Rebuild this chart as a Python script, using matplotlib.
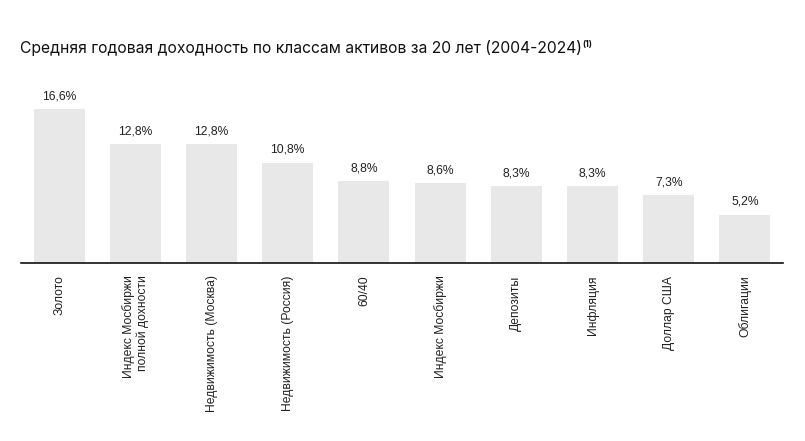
import matplotlib.pyplot as plt

plt.rcParams['font.family'] = ['Liberation Sans', 'DejaVu Sans']

categories = ['Золото', 'Индекс Мосбиржи\nполной дохности', 'Недвижимость (Москва)',
              'Недвижимость (Россия)', '60/40', 'Индекс Мосбиржи', 'Депозиты',
              'Инфляция', 'Доллар США', 'Облигации']
values = [16.6, 12.8, 12.8, 10.8, 8.8, 8.6, 8.3, 8.3, 7.3, 5.2]
value_labels = ['16,6%', '12,8%', '12,8%', '10,8%', '8,8%', '8,6%', '8,3%', '8,3%', '7,3%', '5,2%']

W, H = 805, 441
fig = plt.figure(figsize=(W / 100, H / 100), dpi=100)
ax = fig.add_axes([21 / W, 1 - 263 / H, 762 / W, 173 / H])

x = range(len(values))
ax.bar(x, values, width=0.67, color='#e8e8e8')
ax.set_xlim(-0.5, len(values) - 0.5)
ax.set_ylim(0, 173 / 9.28)

for xi, v, lab in zip(x, values, value_labels):
    ax.annotate(lab, (xi, v), xytext=(0, 5), textcoords='offset points',
                ha='center', va='bottom', fontsize=8.7, color='#222222')

ax.set_xticks(list(x))
ax.set_xticklabels(categories, rotation=90, va='top', ha='center',
                   multialignment='right', fontsize=8.7, color='#222222')
ax.tick_params(axis='x', length=0, pad=9)
ax.set_yticks([])
for s in ['top', 'right', 'left']:
    ax.spines[s].set_visible(False)
ax.spines['bottom'].set_color('#111111')
ax.spines['bottom'].set_linewidth(1.2)

t = fig.text(20 / W, 1 - 48 / H, 'Средняя годовая доходность по классам активов за 20 лет (2004-2024)',
             fontsize=11.3, family=['Inter', 'DejaVu Sans'], va='center', ha='left', color='#111111')
ax.annotate('(1)', xy=(1, 1), xycoords=t, xytext=(0.5, 0), textcoords='offset points',
            fontsize=6, family=['Inter', 'DejaVu Sans'], va='top', ha='left',
            fontweight='bold', color='#111111')

fig.savefig('out.png', dpi=100)
